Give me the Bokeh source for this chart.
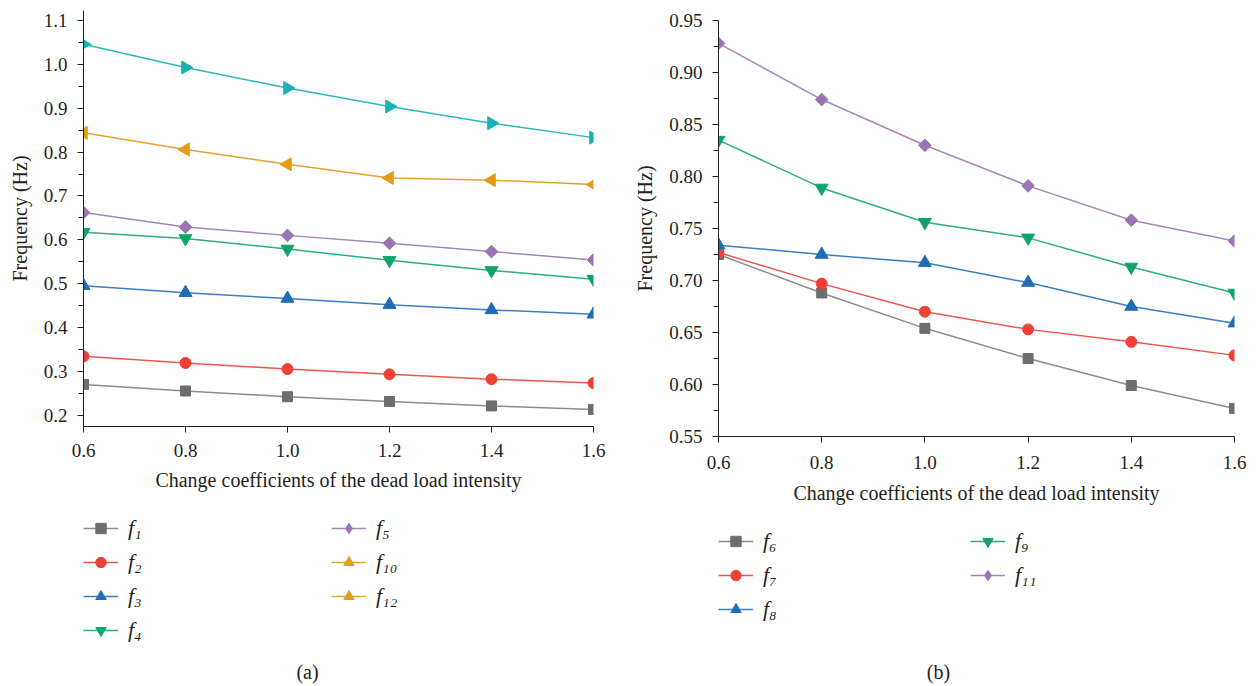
import math
from bokeh.plotting import figure
from bokeh.models import (Legend, LegendItem, Label, FixedTicker, Range1d,
                          NumeralTickFormatter, Spacer)
from bokeh.layouts import row, column
from bokeh.embed import file_html
from bokeh.resources import INLINE

x_coef = [0.6, 0.8, 1.0, 1.2, 1.4, 1.6]

# panel (a)
f1 = [0.270, 0.255, 0.242, 0.231, 0.221, 0.213]
f2 = [0.334, 0.319, 0.305, 0.293, 0.282, 0.273]
f3 = [0.495, 0.479, 0.466, 0.452, 0.440, 0.430]
f4 = [0.617, 0.603, 0.579, 0.553, 0.530, 0.510]
f5 = [0.662, 0.629, 0.610, 0.592, 0.573, 0.554]
f10 = [0.844, 0.806, 0.772, 0.741, 0.736, 0.726]
f12 = [1.046, 0.993, 0.946, 0.904, 0.866, 0.833]

# panel (b)
f6 = [0.725, 0.688, 0.654, 0.625, 0.599, 0.577]
f7 = [0.727, 0.697, 0.670, 0.653, 0.641, 0.628]
f8 = [0.734, 0.725, 0.717, 0.698, 0.675, 0.659]
f9 = [0.835, 0.789, 0.756, 0.741, 0.713, 0.688]
f11 = [0.928, 0.874, 0.830, 0.791, 0.758, 0.738]

ticks_a = [0.2, 0.3, 0.4, 0.5, 0.6, 0.7, 0.8, 0.9, 1.0, 1.1]
minor_a = [0.25, 0.35, 0.45, 0.55, 0.65, 0.75, 0.85, 0.95, 1.05]
ticks_b = [0.55, 0.60, 0.65, 0.70, 0.75, 0.80, 0.85, 0.90, 0.95]
minor_b = [0.575, 0.625, 0.675, 0.725, 0.775, 0.825, 0.875, 0.925]

labels_a = ["f\u2081", "f\u2082", "f\u2083", "f\u2084", "f\u2085",
            "f\u2081\u2080", "f\u2081\u2082"]
labels_b = ["f\u2086", "f\u2087", "f\u2088", "f\u2089", "f\u2081\u2081"]

FONT = "Liberation Serif"
INK = "#231f20"

GRAY = ("#8c8c8c", "#6d6e71")
RED = ("#f0554d", "#ee4035")
BLUE = ("#3c7ec2", "#1f6cb5")
GREEN = ("#2daf7a", "#0fa56a")
PURPLE = ("#a687bd", "#9c74b3")
ORANGE = ("#e6a230", "#e39b1b")
CYAN = ("#2cb8b6", "#17b2b1")

STYLE = {
    "square": dict(marker="square", size=10, angle=0.0),
    "circle": dict(marker="circle", size=11, angle=0.0),
    "up": dict(marker="triangle", size=13, angle=0.0),
    "down": dict(marker="inverted_triangle", size=13, angle=0.0),
    "diamond": dict(marker="square", size=9, angle=math.pi / 4),
    "diamond_key": dict(marker="diamond", size=17, angle=0.0),
    "left": dict(marker="triangle", size=13, angle=math.pi / 2),
    "right": dict(marker="triangle", size=13, angle=-math.pi / 2),
}


def base_fig(width, y_start, y_end, ticks, minor, fmt, bl, br, xstand, xlstand):
    p = figure(width=width, height=511, x_range=Range1d(0.6, 1.6),
               y_range=Range1d(y_start, y_end), output_backend="svg",
               toolbar_location=None, min_border_left=bl, min_border_right=br,
               min_border_top=10, min_border_bottom=85)
    p.grid.visible = False
    p.outline_line_color = None
    p.xaxis.ticker = FixedTicker(ticks=x_coef)
    p.xaxis.formatter = NumeralTickFormatter(format="0.0")
    p.yaxis.ticker = FixedTicker(ticks=ticks, minor_ticks=minor)
    p.yaxis.formatter = NumeralTickFormatter(format=fmt)
    for ax in (p.xaxis[0], p.yaxis[0]):
        ax.axis_line_color = INK
        ax.major_tick_line_color = INK
        ax.minor_tick_line_color = INK
        ax.major_tick_in = 0
        ax.major_tick_out = 6
        ax.minor_tick_in = 0
        ax.minor_tick_out = 5
        ax.major_label_text_font = FONT
        ax.major_label_text_font_size = "19px"
        ax.major_label_text_color = INK
        ax.axis_label_text_font = FONT
        ax.axis_label_text_font_size = "20px"
        ax.axis_label_text_font_style = "normal"
        ax.axis_label_text_color = INK
    p.xaxis.minor_tick_out = 0
    p.xaxis.axis_label = "Change coefficients of the dead load intensity"
    p.yaxis.axis_label = "Frequency (Hz)"
    p.xaxis.major_label_standoff = xstand
    p.xaxis.axis_label_standoff = xlstand
    p.yaxis.major_label_standoff = 10
    p.yaxis.axis_label_standoff = 10
    return p


def add_series(p, xs, ys, colors, kind):
    st = STYLE[kind]
    ln = p.line(xs, ys, line_color=colors[0], line_width=1.5)
    sc = p.scatter(xs, ys, marker=st["marker"], size=st["size"], angle=st["angle"],
                   fill_color=colors[1], line_color=colors[1])
    return [ln, sc]


def legend_fig(width, height, bl, br, bt, x0, x1, y_top, specs, labels,
               label_width, caption, cx, cy):
    # the frame spans page pixels x0..x1 and y_top+bt..y_top+height; the
    # ranges are given in page pixels so the caption can be placed directly
    q = figure(width=width, height=height, x_range=Range1d(x0, x1),
               y_range=Range1d(y_top + height, y_top + bt), output_backend="svg",
               toolbar_location=None, x_axis_type=None, y_axis_type=None,
               min_border_left=bl, min_border_right=br, min_border_top=bt,
               min_border_bottom=0)
    q.grid.visible = False
    q.outline_line_color = None
    items = []
    for (colors, kind, ys), lab in zip(specs, labels):
        # the series again, only as legend keys (its points fall outside this frame)
        rs = add_series(q, x_coef, ys, colors, kind)
        items.append(LegendItem(label=lab, renderers=rs))
    lg = Legend(items=items, ncols=2, location="top_left", margin=0, padding=0,
                spacing=8, glyph_width=35, glyph_height=26, label_standoff=10,
                label_width=label_width, label_text_font=FONT,
                label_text_font_size="22px", label_text_font_style="italic",
                label_text_color=INK, border_line_color=None,
                background_fill_alpha=0)
    q.add_layout(lg)
    q.add_layout(Label(x=cx, y=cy, text=caption, text_align="center",
                       text_baseline="middle", text_font=FONT,
                       text_font_size="20px", text_color=INK))
    return q


# ---------- panel (a)
pa = base_fig(628, 0.174, 1.123, ticks_a, minor_a, "0.0", 83, 35, 11, 9)
add_series(pa, x_coef, f1, GRAY, "square")
add_series(pa, x_coef, f2, RED, "circle")
add_series(pa, x_coef, f3, BLUE, "up")
add_series(pa, x_coef, f4, GREEN, "down")
add_series(pa, x_coef, f5, PURPLE, "diamond")
add_series(pa, x_coef, f10, ORANGE, "left")
add_series(pa, x_coef, f12, CYAN, "right")

spec_a = [(GRAY, "square", f1), (RED, "circle", f2), (BLUE, "up", f3),
          (GREEN, "down", f4), (PURPLE, "diamond_key", f5), (ORANGE, "left", f10),
          (ORANGE, "left", f10)]
la = legend_fig(628, 174, 83, 35, 4, 83, 593, 511, spec_a, labels_a, 195,
                "(a)", 307, 671)

# ---------- panel (b)
pb = base_fig(621, 0.55, 0.95, ticks_b, minor_b, "0.00", 90, 15, 13, 10)
add_series(pb, x_coef, f6, GRAY, "square")
add_series(pb, x_coef, f7, RED, "circle")
add_series(pb, x_coef, f8, BLUE, "up")
add_series(pb, x_coef, f9, GREEN, "down")
add_series(pb, x_coef, f11, PURPLE, "diamond")

spec_b = [(GRAY, "square", f6), (RED, "circle", f7), (BLUE, "up", f8),
          (GREEN, "down", f9), (PURPLE, "diamond_key", f11)]
lb = legend_fig(621, 164, 90, 15, 7, 718, 1234, 521, spec_b, labels_b, 199,
                "(b)", 938, 671)

layout = row(column(pa, la), column(Spacer(width=621, height=10), pb, lb))
open("out.html", "w").write(file_html(layout, INLINE))
